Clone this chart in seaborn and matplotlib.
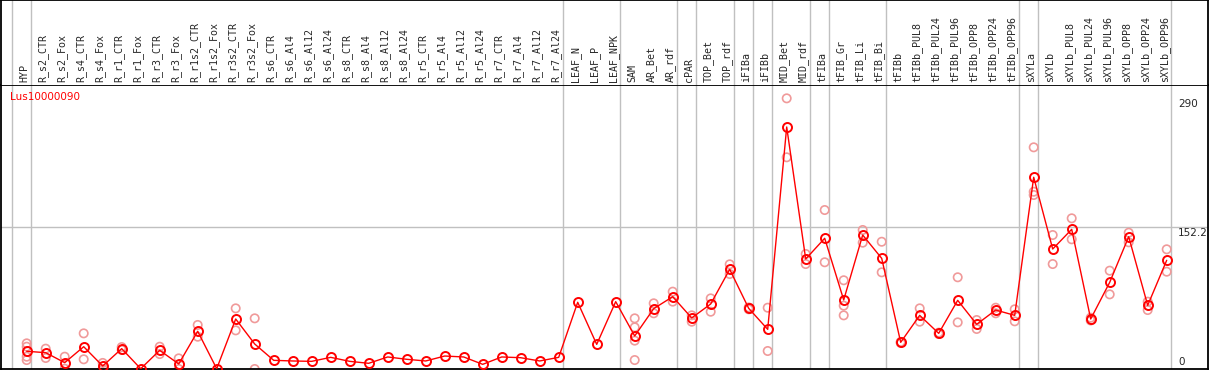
import matplotlib
matplotlib.use("Agg")
import matplotlib.pyplot as plt
import matplotlib.transforms as mtransforms
import numpy as np
import pandas as pd
import seaborn as sns

# sample groups (a grey separator is drawn after each group)
groups = [
    ["HYP"],
    ["R_s2_CTR", "R_s2_Fox", "R_s4_CTR", "R_s4_Fox", "R_r1_CTR", "R_r1_Fox",
     "R_r3_CTR", "R_r3_Fox", "R_r1s2_CTR", "R_r1s2_Fox", "R_r3s2_CTR", "R_r3s2_Fox",
     "R_s6_CTR", "R_s6_Al4", "R_s6_Al12", "R_s6_Al24", "R_s8_CTR", "R_s8_Al4",
     "R_s8_Al12", "R_s8_Al24", "R_r5_CTR", "R_r5_Al4", "R_r5_Al12", "R_r5_Al24",
     "R_r7_CTR", "R_r7_Al4", "R_r7_Al12", "R_r7_Al24"],
    ["LEAF_N", "LEAF_P", "LEAF_NPK"],
    ["SAM", "AR_Bet", "AR_rdf"],
    ["cPAR"],
    ["TOP_Bet", "TOP_rdf"],
    ["iFIBa"],
    ["iFIBb"],
    ["MID_Bet", "MID_rdf"],
    ["tFIBa"],
    ["tFIB_Gr", "tFIB_Li", "tFIB_Bi"],
    ["tFIBb", "tFIBb_PUL8", "tFIBb_PUL24", "tFIBb_PUL96", "tFIBb_OPP8", "tFIBb_OPP24", "tFIBb_OPP96"],
    ["sXYLa"],
    ["sXYLb", "sXYLb_PUL8", "sXYLb_PUL24", "sXYLb_PUL96", "sXYLb_OPP8", "sXYLb_OPP24", "sXYLb_OPP96"],
]
categories = [c for g in groups for c in g]

gene = "Lus10000090"

means = [19, 17.5, 6.8, 23.9, 3.2, 21.8, 0.3, 20, 5.4, 40.4,
         0.3, 53.6, 26.8, 9.3, 8.6, 8.2, 12.5, 8.2, 6.1, 12.9,
         10.4, 8.6, 13.9, 12.9, 5.0, 12.9, 12.1, 8.6, 12.5, 71.5,
         26.4, 72.2, 35.4, 64.7, 77.5, 54.7, 69.7, 106.8, 65, 42.5,
         259.4, 117.9, 140.1, 74, 143.6, 118.6, 28.6, 57.5, 38.2, 73.6,
         47.9, 63.2, 57.5, 205.5, 128.6, 149.7, 53.6, 92.9, 141.8, 68.2,
         116.5]

replicates = [
    [27.5, 23.9, 13.2, 9.6], [21.8, 11.8], [13.2, 0.3], [38.2, 10.4], [6.5, 0.0],
    [23.5, 20.5], [], [23.9, 16], [11.4, 0.0], [47.2, 34.6],
    [], [65, 41.4], [54.3, 0.0], [], [],
    [], [], [], [], [],
    [], [], [], [], [],
    [], [], [], [], [],
    [], [], [54.3, 44.7, 30.4, 9.6], [70.4, 59.7], [82.9, 72.2],
    [57.5, 50.7], [75.7, 61.4], [112.2, 101.8], [66, 64], [65.7, 19.3],
    [290.1, 226.9], [123.3, 112.5], [170.4, 114.4], [95.1, 67.9, 57.5], [149, 135.4],
    [136.4, 103.6], [29, 28], [65, 50.7], [39, 37.5], [98.3, 50],
    [52.5, 42.9], [65.7, 59.7], [64, 51.1], [237.6, 190, 186.5], [143.6, 112.5],
    [161.5, 139], [55, 52], [105.4, 80], [146.1, 135.8], [72.2, 63.2],
    [128.3, 104.3],
]

y_max = 304.4
y_ticks = [0, 152.2, 290]

mean_df = pd.DataFrame({"pos": np.arange(len(categories)), "sample": categories, "value": means})
rep_df = pd.DataFrame(
    [(i, v) for i, reps in enumerate(replicates) for v in reps],
    columns=["pos", "value"],
)

sns.set_style("white")
plt.rcParams["font.family"] = ["DejaVu Sans"]

W, H = 1209, 370
fig = plt.figure(figsize=(W / 100, H / 100), dpi=100)
top_px = 85
ax = fig.add_axes([1 / W, 1 / H, 1207 / W, (H - 1 - top_px) / H])
hdr = fig.add_axes([1 / W, (H - top_px) / H, 1207 / W, top_px / H], sharex=ax)

step = 19.0
x0_px = 26.7
xlim = ((1 - x0_px) / step, (1208 - x0_px) / step)
ax.set_xlim(*xlim)
ax.set_ylim(0, y_max)
hdr.set_ylim(0, 1)

grey = "#c0c0c0"
# group separators
ends = np.cumsum([len(g) for g in groups]) - 1
for e in np.concatenate([[-1], ends]):
    xv = e + 4 / step
    ax.axvline(xv, color=grey, lw=1, zorder=0)
    hdr.axvline(xv, color=grey, lw=1, zorder=0)
ax.axhline(y_ticks[1], color=grey, lw=1, zorder=0)

sns.scatterplot(data=rep_df, x="pos", y="value", ax=ax, marker="o", s=36,
                facecolor="none", edgecolor="#f09a9a", linewidth=1.2, zorder=2)
sns.lineplot(data=mean_df, x="pos", y="value", ax=ax, color="red", lw=1,
             marker="o", markersize=6.5, markerfacecolor="none",
             markeredgecolor="red", markeredgewidth=1.4, zorder=3)

ax.set_xlabel("")
ax.set_ylabel("")
ax.set_xticks([])
ax.set_yticks([])
for s in ax.spines.values():
    s.set_color("black")
    s.set_linewidth(1.3)

# right side value labels
lab_x = (1178 - x0_px) / step
for v in y_ticks:
    if v == 0:
        off = mtransforms.offset_copy(ax.transData, fig=fig, y=2, units="dots")
        ax.text(lab_x, v, str(v), transform=off, ha="left", va="bottom", fontsize=7.5, zorder=4)
    else:
        off = mtransforms.offset_copy(ax.transData, fig=fig, y=-1, units="dots")
        ax.text(lab_x, v, f"{v:g}", transform=off, ha="left", va="top", fontsize=7.5, zorder=4)

ax.text((10 - x0_px) / step, y_max - 12 * 304.4 / 284, gene, color="red",
        ha="left", va="center", fontsize=7.5, zorder=4)

# rotated sample labels in header
hdr.set_xticks([])
hdr.set_yticks([])
for s in ["top", "left", "right"]:
    hdr.spines[s].set_color("black")
    hdr.spines[s].set_linewidth(1.3)
hdr.spines["bottom"].set_visible(False)
for i, c in enumerate(categories):
    hdr.text(i - 0.13, 2.5 / top_px, c, rotation=90, ha="center", va="bottom",
             fontsize=7.2, family="DejaVu Sans Mono")

fig.savefig("out.png", dpi=100)
